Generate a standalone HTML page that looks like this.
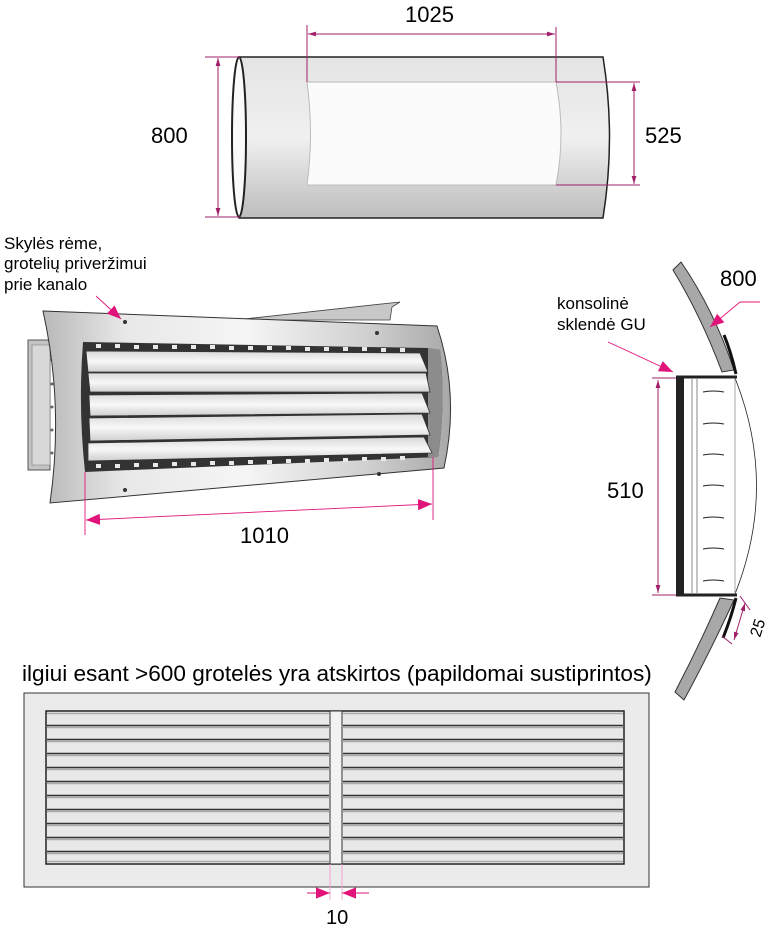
<!DOCTYPE html>
<html><head><meta charset="utf-8"><style>
html,body{margin:0;padding:0;background:#fff}
svg{display:block}
text{font-family:"Liberation Sans",sans-serif;fill:#000}
</style></head><body>
<svg width="772" height="934" viewBox="0 0 772 934" xmlns="http://www.w3.org/2000/svg">
<defs>
<linearGradient id="cyl" x1="0" y1="0" x2="0" y2="1">
<stop offset="0" stop-color="#e4e4e4"/><stop offset="0.5" stop-color="#f0f0f0"/><stop offset="1" stop-color="#bdbdbd"/></linearGradient>
<linearGradient id="plate" x1="0" y1="0" x2="1" y2="0">
<stop offset="0" stop-color="#b8b8b8"/><stop offset="0.2" stop-color="#e8e8e8"/><stop offset="0.5" stop-color="#f5f5f5"/><stop offset="0.8" stop-color="#cfcfcf"/><stop offset="1" stop-color="#a8a8a8"/></linearGradient>
<linearGradient id="blade" x1="0" y1="0" x2="0" y2="1">
<stop offset="0" stop-color="#d8d8d8"/><stop offset="0.5" stop-color="#f8f8f8"/><stop offset="1" stop-color="#cfcfcf"/></linearGradient>
<marker id="ah" viewBox="0 0 10 10" refX="10" refY="5" markerUnits="userSpaceOnUse" markerWidth="8" markerHeight="8" orient="auto-start-reverse"><path d="M0,2L10,5L0,8z" fill="#a0206a"/></marker>
<marker id="ahb" viewBox="0 0 10 10" refX="10" refY="5" markerUnits="userSpaceOnUse" markerWidth="14" markerHeight="14" orient="auto-start-reverse"><path d="M0,1L10,5L0,9z" fill="#e0147a"/></marker>
</defs>

<!-- TOP CYLINDER -->
<path d="M239,57 L603,57 Q616,137 603,218 L239,218 Z" fill="url(#cyl)" stroke="#222" stroke-width="1.5"/>
<ellipse cx="239" cy="137" rx="7" ry="80" fill="#fafafa" stroke="#222" stroke-width="2"/>
<path d="M307,82 L556,82 Q566,134 556,185 L307,185 Q314,134 307,82 Z" fill="#fbfbfb" stroke="#bbb"/>
<g stroke="#a0206a" stroke-width="1" fill="none">
<line x1="307" y1="25" x2="307" y2="82"/><line x1="556" y1="27" x2="556" y2="82"/>
<line x1="308" y1="34" x2="555" y2="34" marker-start="url(#ah)" marker-end="url(#ah)"/>
<line x1="205" y1="57" x2="240" y2="57"/><line x1="205" y1="217" x2="240" y2="217"/>
<line x1="218" y1="58" x2="218" y2="216" marker-start="url(#ah)" marker-end="url(#ah)"/>
<line x1="556" y1="82" x2="640" y2="82"/><line x1="556" y1="185" x2="640" y2="185"/>
<line x1="634" y1="83" x2="634" y2="184" marker-start="url(#ah)" marker-end="url(#ah)"/>
</g>
<text x="405" y="22" font-size="22">1025</text>
<text x="151" y="143" font-size="22">800</text>
<text x="645" y="143" font-size="22">525</text>

<!-- MIDDLE GRILLE -->
<path d="M235,320 L400,302 L392,307 L390,320 Z" fill="#c8c8c8" stroke="#444" stroke-width="0.8"/>
<path d="M28,340 L50,340 L50,470 L28,470 Z" fill="#c4c4c4" stroke="#555"/>
<path d="M32,345 L50,345 L50,465 L32,465 Z" fill="#d8d8d8" stroke="#777" stroke-width="0.6"/>
<g fill="#666"><circle cx="52" cy="360" r="1.5"/><circle cx="52" cy="384" r="1.5"/><circle cx="52" cy="407" r="1.5"/><circle cx="52" cy="430" r="1.5"/><circle cx="52" cy="453" r="1.5"/></g>
<path d="M43,311 L437,326 Q460,395 444,468 L50,503 Q64,405 43,311 Z" fill="url(#plate)" stroke="#333" stroke-width="1"/>
<path d="M83,342 L428,348 L440,350 Q446,403 438,457 L85,472 Q78,407 83,342 Z" fill="#333"/>
<path d="M428,348 L440,350 Q446,403 438,457 L428,457 Z" fill="#8c8c8c"/>
<g fill="#e8e8e8">
<rect x="96" y="344" width="5" height="4"/><rect x="115" y="344" width="5" height="4"/><rect x="134" y="345" width="5" height="4"/><rect x="153" y="345" width="5" height="4"/><rect x="172" y="345" width="5" height="4"/><rect x="191" y="345" width="5" height="4"/><rect x="210" y="345" width="5" height="4"/><rect x="229" y="346" width="5" height="4"/><rect x="248" y="346" width="5" height="4"/><rect x="267" y="346" width="5" height="4"/><rect x="286" y="346" width="5" height="4"/><rect x="305" y="347" width="5" height="4"/><rect x="324" y="347" width="5" height="4"/><rect x="343" y="347" width="5" height="4"/><rect x="362" y="347" width="5" height="4"/><rect x="381" y="348" width="5" height="4"/><rect x="400" y="348" width="5" height="4"/>
<rect x="96" y="464" width="5" height="4"/><rect x="115" y="464" width="5" height="4"/><rect x="134" y="463" width="5" height="4"/><rect x="153" y="463" width="5" height="4"/><rect x="172" y="462" width="5" height="4"/><rect x="191" y="462" width="5" height="4"/><rect x="210" y="461" width="5" height="4"/><rect x="229" y="461" width="5" height="4"/><rect x="248" y="460" width="5" height="4"/><rect x="267" y="460" width="5" height="4"/><rect x="286" y="459" width="5" height="4"/><rect x="305" y="459" width="5" height="4"/><rect x="324" y="458" width="5" height="4"/><rect x="343" y="458" width="5" height="4"/><rect x="362" y="457" width="5" height="4"/><rect x="381" y="457" width="5" height="4"/><rect x="400" y="456" width="5" height="4"/>
</g>
<g fill="url(#blade)" stroke="#333" stroke-width="0.8">
<path d="M86,351 L420,353 L428,372 L88,372 Z"/>
<path d="M88,373 L426,373 L430,392 L90,392 Z"/>
<path d="M89,395 L422,393 L430,413 L90,416 Z"/>
<path d="M89,418 L422,414 L430,435 L90,441 Z"/>
<path d="M88,443 L424,437 L432,453 L88,461 Z"/>
</g>
<g fill="#333"><circle cx="125" cy="322" r="2"/><circle cx="377" cy="333" r="2"/><circle cx="379" cy="474" r="2"/><circle cx="125" cy="490" r="2"/></g>
<g stroke="#e0147a" stroke-width="0.9" fill="none">
<line x1="85" y1="472" x2="85" y2="535"/><line x1="433" y1="457" x2="433" y2="520"/>
<line x1="86" y1="520" x2="432" y2="504" marker-start="url(#ahb)" marker-end="url(#ahb)"/>
<line x1="96" y1="296" x2="121" y2="319" marker-end="url(#ahb)"/>
</g>
<text x="240" y="543" font-size="22">1010</text>
<text x="4" y="249" font-size="17">Skylės rėme,</text>
<text x="4" y="269" font-size="17">grotelių priveržimui</text>
<text x="4" y="290" font-size="17">prie kanalo</text>

<!-- SIDE VIEW -->
<path d="M681,262 Q714,310 734,370 L722,372 Q701,316 673,270 Z" fill="#a8a8a8" stroke="#333" stroke-width="1"/>
<path d="M734,600 Q710,652 684,700 L675,692 Q699,646 720,598 Z" fill="#a8a8a8" stroke="#333" stroke-width="1"/>
<path d="M724,335 Q731,352 736,374" stroke="#111" stroke-width="3" fill="none"/>
<path d="M736,598 Q731,618 723,638" stroke="#111" stroke-width="3" fill="none"/>
<path d="M735,378 Q778,486 735,594" stroke="#222" stroke-width="0.8" fill="none"/>
<rect x="684" y="378" width="51" height="216" fill="#fff"/>
<rect x="676" y="376" width="8" height="220" fill="#222"/>
<line x1="676" y1="377" x2="737" y2="377" stroke="#222" stroke-width="3"/>
<line x1="676" y1="595" x2="737" y2="595" stroke="#222" stroke-width="3"/>
<line x1="692" y1="379" x2="692" y2="593" stroke="#888" stroke-width="1"/>
<line x1="697" y1="379" x2="697" y2="593" stroke="#888" stroke-width="1"/>
<line x1="735" y1="379" x2="735" y2="593" stroke="#aaa" stroke-width="1"/>
<g stroke="#222" stroke-width="1" fill="none">
<path d="M703,392 Q713,390 724,392"/><path d="M703,424 Q713,422 724,424"/><path d="M703,455 Q713,453 724,455"/><path d="M703,486 Q713,484 724,486"/><path d="M703,518 Q713,516 724,518"/><path d="M703,549 Q713,547 724,549"/><path d="M703,581 Q713,579 724,581"/>
</g>
<g stroke="#a0206a" stroke-width="1" fill="none">
<line x1="652" y1="378" x2="676" y2="378"/><line x1="652" y1="595" x2="676" y2="595"/>
<line x1="658" y1="380" x2="658" y2="593" marker-start="url(#ah)" marker-end="url(#ah)"/>
<line x1="740" y1="596" x2="750" y2="610"/><line x1="722" y1="636" x2="732" y2="644"/>
<line x1="745" y1="603" x2="734" y2="640" marker-start="url(#ah)" marker-end="url(#ah)"/>
</g>
<g stroke="#e0147a" stroke-width="0.9" fill="none">
<line x1="760" y1="302" x2="740" y2="302"/>
<line x1="740" y1="302" x2="710" y2="327" marker-end="url(#ahb)"/>
<line x1="608" y1="342" x2="673" y2="372" marker-end="url(#ahb)"/>
</g>
<text x="720" y="286" font-size="22">800</text>
<text x="557" y="309" font-size="17">konsolinė</text>
<text x="557" y="330" font-size="17">sklendė GU</text>
<text x="607" y="498" font-size="22">510</text>
<text x="0" y="0" font-size="16" transform="translate(760,638) rotate(-72)">25</text>

<!-- BOTTOM GRILLE -->
<text x="22" y="681" font-size="22.6">ilgiui esant &gt;600 grotelės yra atskirtos (papildomai sustiprintos)</text>
<rect x="24" y="693" width="625" height="194" fill="#ebebeb" stroke="#333" stroke-width="1"/>
<rect x="46" y="711" width="578" height="153" fill="#e8e8e8" stroke="#222" stroke-width="1.5"/>
<g stroke-width="1.5" fill="none">
<path d="M47,725.5H329M343,725.5H623" stroke="#333"/><path d="M47,727.5H329M343,727.5H623" stroke="#aaa"/>
<path d="M47,739.5H329M343,739.5H623" stroke="#333"/><path d="M47,741.5H329M343,741.5H623" stroke="#aaa"/>
<path d="M47,753.5H329M343,753.5H623" stroke="#333"/><path d="M47,755.5H329M343,755.5H623" stroke="#aaa"/>
<path d="M47,767.5H329M343,767.5H623" stroke="#333"/><path d="M47,769.5H329M343,769.5H623" stroke="#aaa"/>
<path d="M47,781.5H329M343,781.5H623" stroke="#333"/><path d="M47,783.5H329M343,783.5H623" stroke="#aaa"/>
<path d="M47,795.5H329M343,795.5H623" stroke="#333"/><path d="M47,797.5H329M343,797.5H623" stroke="#aaa"/>
<path d="M47,809.5H329M343,809.5H623" stroke="#333"/><path d="M47,811.5H329M343,811.5H623" stroke="#aaa"/>
<path d="M47,823.5H329M343,823.5H623" stroke="#333"/><path d="M47,825.5H329M343,825.5H623" stroke="#aaa"/>
<path d="M47,837.5H329M343,837.5H623" stroke="#333"/><path d="M47,839.5H329M343,839.5H623" stroke="#aaa"/>
<path d="M47,851.5H329M343,851.5H623" stroke="#333"/><path d="M47,853.5H329M343,853.5H623" stroke="#aaa"/>
<path d="M47,713.5H329M343,713.5H623" stroke="#aaa"/>
<path d="M47,861.5H329M343,861.5H623" stroke="#aaa"/>
</g>
<rect x="330" y="711" width="12" height="153" fill="#f2f2f2" stroke="#333" stroke-width="1"/>
<g stroke="#e0147a" stroke-width="0.9" fill="none">
<line x1="330" y1="864" x2="330" y2="900" stroke="#f0a0c8"/><line x1="342" y1="864" x2="342" y2="900" stroke="#f0a0c8"/>
<line x1="307" y1="893" x2="330" y2="893" marker-end="url(#ahb)"/>
<line x1="369" y1="893" x2="342" y2="893" marker-end="url(#ahb)"/>
</g>
<text x="326" y="924" font-size="20">10</text>
</svg>
</body></html>
